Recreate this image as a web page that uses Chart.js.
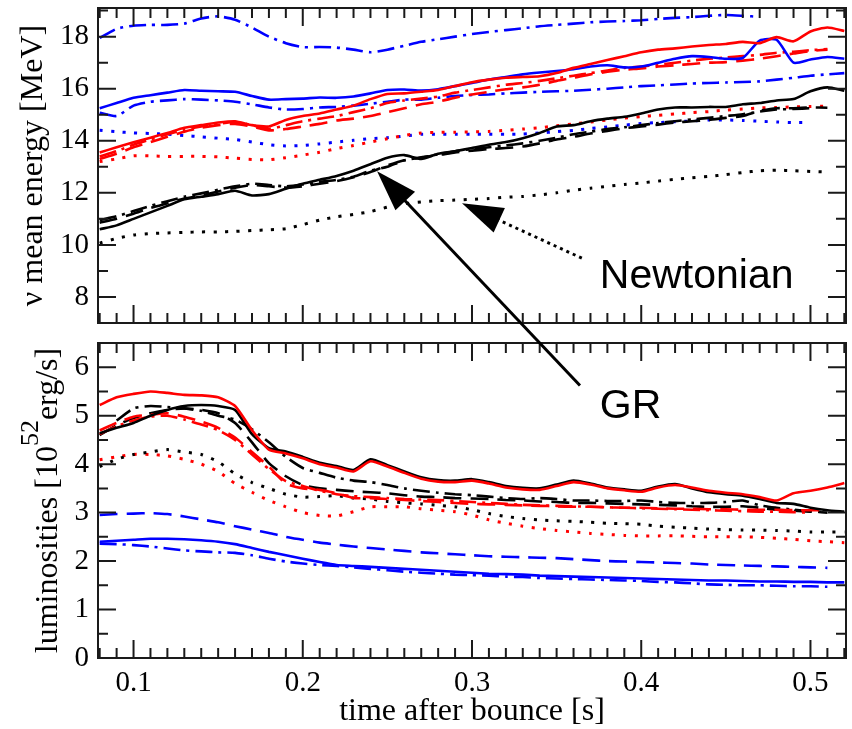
<!DOCTYPE html>
<html>
<head>
<meta charset="utf-8">
<script src="https://cdn.jsdelivr.net/npm/chart.js@4.4.1/dist/chart.umd.min.js"></script>
<style>
body { margin: 0; background: #fff; }
#wrap { position: relative; width: 852px; height: 729px; }
canvas { position: absolute; left: 0; top: 0; }
</style>
</head>
<body>
<div id="wrap">
  <canvas id="lum" width="852" height="729"></canvas>
  <canvas id="energy" width="852" height="729"></canvas>
</div>
<script>
// time after bounce [s], shared by every curve
const times = [
  0.08, 0.09, 0.10, 0.11, 0.12, 0.13, 0.14, 0.15, 0.16, 0.17,
  0.18, 0.19, 0.20, 0.21, 0.22, 0.23, 0.24, 0.25, 0.26, 0.27,
  0.28, 0.29, 0.30, 0.31, 0.32, 0.33, 0.34, 0.35, 0.36, 0.37,
  0.38, 0.39, 0.40, 0.41, 0.42, 0.43, 0.44, 0.45, 0.46, 0.47,
  0.48, 0.49, 0.50, 0.51, 0.52
];
const timeTicks = [0.1, 0.2, 0.3, 0.4, 0.5];
const energyTicks = [8, 10, 12, 14, 16, 18];
const lumTicks = [0, 1, 2, 3, 4, 5, 6];

// mean energies [MeV]
const blueSolidE = [
  15.25, 15.45, 15.65, 15.75, 15.85, 15.95, 15.92, 15.90, 15.88, 15.72,
  15.58, 15.60, 15.62, 15.66, 15.65, 15.70, 15.82, 15.95, 15.97, 15.93,
  15.98, 16.10, 16.22, 16.35, 16.45, 16.55, 16.62, 16.68, 16.75, 16.85,
  16.90, 16.82, 16.85, 17.00, 17.15, 17.25, 17.22, 17.15, 17.18, 17.85,
  17.88, 17.00, 17.12, 17.22, 17.15
];
const blueDashDotHiE = [
  17.95, 18.30, 18.42, 18.45, 18.45, 18.50, 18.70, 18.78, 18.65, 18.35,
  18.00, 17.75, 17.60, 17.60, 17.58, 17.50, 17.40, 17.50, 17.65, 17.80,
  17.90, 18.00, 18.10, 18.18, 18.25, 18.32, 18.40, 18.45, 18.50, 18.55,
  18.58, 18.60, 18.63, 18.68, 18.72, 18.75, 18.80, 18.83, 18.80, 18.76,
  null, null, null, null, null
];
const blueDashDotLoE = [
  15.08, 14.95, 15.35, 15.50, 15.55, 15.60, 15.58, 15.55, 15.50, 15.40,
  15.28, 15.20, 15.22, 15.28, 15.30, 15.35, 15.42, 15.50, 15.58, 15.58,
  15.65, 15.72, 15.76, 15.78, 15.82, 15.85, 15.88, 15.90, 15.92, 15.96,
  16.00, 16.05, 16.10, 16.13, 16.16, 16.20, 16.22, 16.24, 16.26, 16.28,
  16.35, 16.42, 16.50, 16.55, 16.60
];
const blueDotE = [
  14.40, 14.35, 14.30, 14.28, 14.25, 14.20, 14.15, 14.10, 14.05, 13.95,
  13.85, 13.80, 13.82, 13.88, 13.95, 14.02, 14.08, 14.12, 14.18, 14.25,
  14.25, 14.25, 14.25, 14.25, 14.25, 14.26, 14.30, 14.35, 14.40, 14.47,
  14.53, 14.60, 14.66, 14.70, 14.73, 14.76, 14.80, 14.80, 14.78, 14.75,
  14.72, 14.70, 14.70, null, null
];
const redSolidE = [
  13.55, 13.75, 13.94, 14.12, 14.30, 14.50, 14.60, 14.70, 14.75, 14.60,
  14.55, 14.80, 14.95, 15.05, 15.20, 15.35, 15.60, 15.80, 15.82, 15.88,
  15.95, 16.10, 16.25, 16.35, 16.42, 16.45, 16.48, 16.60, 16.80, 16.95,
  17.10, 17.25, 17.40, 17.50, 17.55, 17.62, 17.68, 17.72, 17.80, 17.75,
  17.98, 17.82, 18.20, 18.35, 18.22
];
const redDashDotE = [
  13.40, 13.60, 13.85, 14.05, 14.25, 14.42, 14.55, 14.65, 14.72, 14.60,
  14.45, 14.60, 14.75, 14.85, 14.95, 15.10, 15.25, 15.45, 15.55, 15.62,
  15.70, 15.85, 15.95, 16.05, 16.15, 16.22, 16.30, 16.40, 16.50, 16.60,
  16.70, 16.80, 16.85, 16.92, 17.00, 17.08, 17.15, 17.20, 17.25, 17.30,
  17.38, 17.42, 17.48, 17.52, null
];
const redDashE = [
  13.30, 13.50, 13.75, 13.95, 14.15, 14.35, 14.50, 14.60, 14.65, 14.55,
  14.40, 14.45, 14.55, 14.65, 14.78, 14.85, 14.95, 15.10, 15.25, 15.40,
  15.50, 15.65, 15.78, 15.88, 15.98, 16.05, 16.15, 16.30, 16.42, 16.55,
  16.65, 16.73, 16.78, 16.85, 16.90, 16.95, 17.00, 17.02, 17.08, 17.15,
  17.25, 17.35, 17.45, 17.50, null
];
const redDotE = [
  13.20, 13.30, 13.42, 13.42, 13.40, 13.40, 13.40, 13.38, 13.33, 13.28,
  13.27, 13.35, 13.45, 13.56, 13.70, 13.82, 13.95, 14.08, 14.20, 14.30,
  14.32, 14.33, 14.34, 14.36, 14.40, 14.45, 14.50, 14.58, 14.65, 14.72,
  14.80, 14.87, 14.93, 14.98, 15.03, 15.08, 15.12, 15.18, 15.22, 15.26,
  15.28, 15.30, 15.32, 15.33, null
];
const blackSolidE = [
  10.60, 10.75, 11.00, 11.25, 11.50, 11.75, 11.85, 11.95, 12.08, 11.90,
  11.95, 12.16, 12.35, 12.50, 12.65, 12.85, 13.10, 13.35, 13.45, 13.30,
  13.50, 13.60, 13.72, 13.85, 13.95, 14.10, 14.30, 14.55, 14.60, 14.75,
  14.85, 14.92, 15.05, 15.20, 15.28, 15.28, 15.30, 15.30, 15.40, 15.45,
  15.55, 15.60, 15.90, 16.05, 15.92
];
const blackDashE = [
  10.85, 11.00, 11.20, 11.42, 11.60, 11.78, 11.90, 12.05, 12.20, 12.30,
  12.25, 12.20, 12.25, 12.35, 12.45, 12.60, 12.80, 13.05, 13.25, 13.37,
  13.45, 13.55, 13.62, 13.68, 13.72, 13.78, 13.90, 14.05, 14.15, 14.28,
  14.38, 14.48, 14.55, 14.62, 14.70, 14.75, 14.80, 14.88, 14.95, 15.15,
  15.25, 15.25, 15.28, 15.27, null
];
const blackDashDotE = [
  10.95, 11.10, 11.30, 11.50, 11.68, 11.85, 11.98, 12.12, 12.25, 12.35,
  12.30, 12.25, 12.32, 12.42, 12.50, 12.62, 12.85, 13.00, 13.25, 13.35,
  13.48, 13.60, 13.68, 13.75, 13.82, 13.90, 14.00, 14.12, 14.25, 14.35,
  14.45, 14.52, 14.60, 14.68, 14.75, 14.82, 14.88, 14.95, 15.02, 15.12,
  15.20, 15.22, 15.25, null, null
];
const blackDotE = [
  10.07, 10.25, 10.38, 10.44, 10.46, 10.48, 10.50, 10.50, 10.52, 10.55,
  10.58, 10.62, 10.78, 10.95, 11.08, 11.17, 11.28, 11.45, 11.58, 11.65,
  11.70, 11.72, 11.75, 11.78, 11.83, 11.86, 11.92, 12.00, 12.10, 12.18,
  12.25, 12.32, 12.38, 12.45, 12.52, 12.58, 12.63, 12.70, 12.78, 12.85,
  12.87, 12.85, 12.82, 12.80, null
];

// luminosities [10^52 erg/s]
const redSolidL = [
  5.22, 5.38, 5.45, 5.50, 5.47, 5.43, 5.42, 5.38, 5.20, 4.70,
  4.30, 4.22, 4.12, 4.00, 3.93, 3.85, 4.06, 3.95, 3.82, 3.70,
  3.64, 3.63, 3.66, 3.60, 3.52, 3.48, 3.47, 3.55, 3.63, 3.58,
  3.50, 3.46, 3.43, 3.52, 3.57, 3.52, 3.45, 3.41, 3.38, 3.32,
  3.25, 3.40, 3.45, 3.52, 3.61
];
const blackSolidL = [
  4.64, 4.75, 4.85, 5.00, 5.12, 5.20, 5.22, 5.20, 5.12, 4.62,
  4.33, 4.26, 4.15, 4.03, 3.96, 3.88, 4.10, 3.98, 3.85, 3.73,
  3.67, 3.66, 3.69, 3.63, 3.55, 3.51, 3.50, 3.58, 3.66, 3.60,
  3.52, 3.48, 3.45, 3.54, 3.59, 3.50, 3.42, 3.38, 3.35, 3.28,
  3.20, 3.18, 3.10, 3.05, 3.02
];
const blackDashDotL = [
  null, 4.90, 5.15, 5.20, 5.18, 5.15, 5.10, 5.00, 4.92, 4.72,
  4.45, 4.15, 3.92, 3.82, 3.72, 3.66, 3.63, 3.57, 3.50, 3.45,
  3.41, 3.38, 3.36, 3.33, 3.30, 3.28, 3.30, 3.28, 3.25, 3.25,
  3.24, 3.24, 3.25, 3.22, 3.20, 3.20, 3.20, 3.22, 3.25, 3.15,
  3.10, 3.06, 3.03, 3.00, null
];
const blackDashL = [
  4.60, 4.80, 4.95, 5.05, 5.12, 5.15, 5.12, 5.05, 4.85, 4.45,
  4.02, 3.75, 3.57, 3.50, 3.47, 3.44, 3.42, 3.40, 3.36, 3.33,
  3.32, 3.30, 3.29, 3.28, 3.26, 3.25, 3.23, 3.22, 3.20, 3.20,
  3.19, 3.18, 3.17, 3.16, 3.15, 3.13, 3.12, 3.12, 3.13, 3.10,
  3.06, 3.04, 3.02, 3.00, null
];
const redDashL = [
  4.70, 4.85, 4.98, 5.02, 5.05, 4.98, 4.88, 4.75, 4.55, 4.25,
  3.95, 3.60, 3.50, 3.47, 3.40, 3.30, 3.30, 3.28, 3.26, 3.24,
  3.22, 3.20, 3.18, 3.17, 3.16, 3.15, 3.14, 3.13, 3.12, 3.12,
  3.11, 3.10, 3.10, 3.09, 3.08, 3.08, 3.07, 3.07, 3.06, 3.06,
  3.06, 3.05, 3.05, 3.05, null
];
const redDashDotL = [
  4.62, 4.78, 4.90, 4.98, 5.00, 4.92, 4.82, 4.70, 4.50, 4.20,
  3.90, 3.65, 3.55, 3.45, 3.38, 3.34, 3.32, 3.30, 3.28, 3.27,
  3.26, 3.24, 3.22, 3.20, 3.18, 3.16, 3.15, 3.14, 3.13, 3.12,
  3.11, 3.10, 3.09, 3.08, 3.07, 3.06, 3.05, 3.04, 3.03, 3.02,
  3.02, 3.01, 3.00, null, null
];
const blackDotL = [
  3.95, 4.10, 4.20, 4.25, 4.30, 4.25, 4.20, 4.05, 3.80, 3.62,
  3.50, 3.38, 3.32, 3.33, 3.35, 3.30, 3.28, 3.23, 3.20, 3.18,
  3.15, 3.12, 3.06, 2.98, 2.92, 2.88, 2.85, 2.83, 2.82, 2.80,
  2.78, 2.77, 2.76, 2.72, 2.70, 2.68, 2.66, 2.65, 2.64, 2.64,
  2.63, 2.62, 2.60, 2.60, 2.60
];
const redDotL = [
  4.09, 4.15, 4.20, 4.20, 4.17, 4.10, 4.00, 3.85, 3.60, 3.42,
  3.25, 3.12, 3.00, 2.94, 2.93, 3.02, 3.12, 3.12, 3.12, 3.08,
  3.05, 3.02, 2.95, 2.85, 2.78, 2.72, 2.67, 2.63, 2.60, 2.57,
  2.55, 2.53, 2.52, 2.52, 2.52, 2.51, 2.50, 2.50, 2.50, 2.49,
  2.47, 2.45, 2.42, 2.40, 2.38
];
const blueDashL = [
  2.95, 2.97, 2.98, 2.99, 2.97, 2.92, 2.86, 2.80, 2.72, 2.65,
  2.58, 2.50, 2.44, 2.38, 2.34, 2.30, 2.27, 2.24, 2.21, 2.18,
  2.16, 2.14, 2.12, 2.10, 2.09, 2.08, 2.07, 2.06, 2.04, 2.02,
  2.00, 1.99, 1.98, 1.97, 1.96, 1.95, 1.93, 1.92, 1.91, 1.90,
  1.89, 1.88, 1.87, 1.86, null
];
const blueSolidL = [
  2.40, 2.42, 2.44, 2.46, 2.46, 2.45, 2.43, 2.40, 2.35, 2.27,
  2.19, 2.12, 2.05, 1.98, 1.92, 1.90, 1.88, 1.86, 1.84, 1.82,
  1.80, 1.78, 1.76, 1.74, 1.73, 1.72, 1.70, 1.69, 1.68, 1.67,
  1.66, 1.65, 1.64, 1.63, 1.62, 1.61, 1.60, 1.60, 1.59, 1.58,
  1.58, 1.57, 1.57, 1.56, 1.56
];
const blueDashDotL = [
  2.36, 2.35, 2.33, 2.30, 2.26, 2.22, 2.20, 2.18, 2.17, 2.12,
  2.05, 1.99, 1.95, 1.92, 1.90, 1.87, 1.84, 1.81, 1.78, 1.76,
  1.74, 1.72, 1.71, 1.70, 1.68, 1.67, 1.65, 1.64, 1.63, 1.62,
  1.61, 1.60, 1.59, 1.57, 1.56, 1.54, 1.52, 1.51, 1.50, 1.50,
  1.49, 1.48, 1.48, 1.47, null
];

const SERIF = "'Liberation Serif', 'Times New Roman', serif";
const BLUE = '#0000ff', RED = '#ff0000', BLACK = '#000000';
const lineStyles = {
  solid:   { dash: [], width: 2.6 },
  dash:    { dash: [18, 9], width: 2.6 },
  dashDot: { dash: [17, 6, 3, 6], width: 2.6 },
  dot:     { dash: [3, 8.5], width: 3 }
};

function curve(values, color, style) {
  const s = lineStyles[style];
  return {
    data: values.map((v, i) => ({ x: times[i], y: v })),
    borderColor: color,
    borderWidth: s.width,
    borderDash: s.dash,
    pointRadius: 0,
    tension: 0.2,
    fill: false
  };
}

// frame with inward ticks on all four sides
const framePlugin = {
  id: 'frame',
  afterDraw(chart, args, opts) {
    const { ctx, chartArea: a } = chart;
    const x = chart.scales.x, y = chart.scales.y;
    ctx.save();
    ctx.strokeStyle = '#1a1a1a';
    ctx.lineWidth = 2;
    ctx.strokeRect(a.left, a.top, a.right - a.left, a.bottom - a.top);
    ctx.beginPath();
    for (let i = 8; i <= 52; i++) {
      const px = x.getPixelForValue(i / 100);
      const len = i % 10 === 0 ? 18 : 10;
      ctx.moveTo(px, a.bottom); ctx.lineTo(px, a.bottom - len);
      ctx.moveTo(px, a.top); ctx.lineTo(px, a.top + len);
    }
    const step = opts.minorStep;
    for (let v = Math.ceil(y.min / step) * step; v <= y.max + 1e-9; v += step) {
      const py = y.getPixelForValue(v);
      const major = opts.major.some(m => Math.abs(m - v) < 1e-6);
      const len = major ? 18 : 10;
      ctx.moveTo(a.left, py); ctx.lineTo(a.left + len, py);
      ctx.moveTo(a.right, py); ctx.lineTo(a.right - len, py);
    }
    ctx.stroke();
    ctx.restore();
  }
};

// GR / Newtonian arrows, placed in energy-panel units
const grLabel = { text: 'GR', at: [0.3755, 3.37], tip: [0.2439, 12.83], tail: [0.3638, 4.60], dotted: false };
const newtLabel = { text: 'Newtonian', at: [0.3755, 8.33], tip: [0.2941, 11.60], tail: [0.3649, 9.49], dotted: true };

function drawArrow(ctx, tail, tip, dotted) {
  const dx = tip[0] - tail[0], dy = tip[1] - tail[1];
  const len = Math.hypot(dx, dy), ux = dx / len, uy = dy / len;
  const hl = 41, hw = 13.5;
  const bx = tip[0] - ux * hl, by = tip[1] - uy * hl;
  ctx.beginPath();
  ctx.lineWidth = 3;
  ctx.setLineDash(dotted ? [3, 4] : []);
  ctx.moveTo(tail[0], tail[1]);
  ctx.lineTo(bx + ux * 2, by + uy * 2);
  ctx.stroke();
  ctx.setLineDash([]);
  ctx.beginPath();
  ctx.moveTo(tip[0], tip[1]);
  ctx.lineTo(bx - uy * hw, by + ux * hw);
  ctx.lineTo(bx + uy * hw, by - ux * hw);
  ctx.closePath();
  ctx.fill();
}

const notePlugin = {
  id: 'notes',
  afterDraw(chart) {
    const { ctx } = chart;
    const x = chart.scales.x, y = chart.scales.y;
    const p = d => [x.getPixelForValue(d[0]), y.getPixelForValue(d[1])];
    ctx.save();
    ctx.fillStyle = '#000';
    ctx.strokeStyle = '#000';
    [grLabel, newtLabel].forEach(n => {
      drawArrow(ctx, p(n.tail), p(n.tip), n.dotted);
      const at = p(n.at);
      ctx.font = "41px 'Liberation Sans', Arial, sans-serif";
      ctx.textBaseline = 'alphabetic';
      ctx.textAlign = 'left';
      ctx.fillText(n.text, at[0], at[1]);
    });
    ctx.restore();
  }
};

// luminosity axis title with a raised exponent
const lumTitlePlugin = {
  id: 'lumTitle',
  afterDraw(chart) {
    const { ctx, chartArea: a } = chart;
    const parts = [
      { t: 'luminosities [10', size: 32, rise: 0 },
      { t: '52', size: 26, rise: -19 },
      { t: 'erg/s]', size: 32, rise: 0 }
    ];
    ctx.save();
    ctx.translate(57, (a.top + a.bottom) / 2);
    ctx.rotate(-Math.PI / 2);
    ctx.fillStyle = '#000';
    ctx.textBaseline = 'alphabetic';
    ctx.textAlign = 'left';
    let w = 0;
    parts.forEach(pt => { ctx.font = pt.size + 'px ' + SERIF; pt.w = ctx.measureText(pt.t).width; w += pt.w; });
    let cx = -w / 2;
    parts.forEach(pt => { ctx.font = pt.size + 'px ' + SERIF; ctx.fillText(pt.t, cx, pt.rise); cx += pt.w; });
    ctx.restore();
  }
};

function yAxis(min, max, ticks, width, title) {
  return {
    type: 'linear', min: min, max: max,
    afterBuildTicks: s => { s.ticks = ticks.map(v => ({ value: v })); },
    afterFit: s => { s.width = width; s.paddingTop = 0; s.paddingBottom = 0; },
    grid: { display: false, drawTicks: false },
    border: { display: false },
    ticks: { font: { family: SERIF, size: 29 }, color: '#000', padding: 9, callback: v => String(v) },
    title: title
  };
}

new Chart(document.getElementById('energy'), {
  type: 'line',
  data: {
    datasets: [
      curve(redSolidE, RED, 'solid'),
      curve(blueSolidE, BLUE, 'solid'),
      curve(blackSolidE, BLACK, 'solid'),
      curve(redDashE, RED, 'dash'),
      curve(redDashDotE, RED, 'dashDot'),
      curve(blackDashE, BLACK, 'dash'),
      curve(blackDashDotE, BLACK, 'dashDot'),
      curve(blueDashDotHiE, BLUE, 'dashDot'),
      curve(blueDashDotLoE, BLUE, 'dashDot'),
      curve(redDotE, RED, 'dot'),
      curve(blueDotE, BLUE, 'dot'),
      curve(blackDotE, BLACK, 'dot')
    ]
  },
  options: {
    responsive: false,
    animation: false,
    devicePixelRatio: 1,
    layout: { padding: { left: 0, right: 6, top: 8, bottom: 406 } },
    plugins: { legend: { display: false }, tooltip: { enabled: false },
      frame: { major: energyTicks, minorStep: 1 } },
    scales: {
      x: { type: 'linear', min: 0.079, max: 0.521, display: false },
      y: yAxis(7, 19.1, energyTicks, 98, {
        display: true, text: 'ν mean energy [MeV]', color: '#000',
        font: { family: SERIF, size: 32 }, padding: { top: 14, bottom: 0 }
      })
    }
  },
  plugins: [framePlugin, notePlugin]
});

new Chart(document.getElementById('lum'), {
  type: 'line',
  data: {
    datasets: [
      curve(redSolidL, RED, 'solid'),
      curve(blackSolidL, BLACK, 'solid'),
      curve(redDashL, RED, 'dash'),
      curve(redDashDotL, RED, 'dashDot'),
      curve(blackDashL, BLACK, 'dash'),
      curve(blackDashDotL, BLACK, 'dashDot'),
      curve(blackDotL, BLACK, 'dot'),
      curve(redDotL, RED, 'dot'),
      curve(blueDashL, BLUE, 'dash'),
      curve(blueSolidL, BLUE, 'solid'),
      curve(blueDashDotL, BLUE, 'dashDot')
    ]
  },
  options: {
    responsive: false,
    animation: false,
    devicePixelRatio: 1,
    layout: { padding: { left: 0, right: 6, top: 343, bottom: 0 } },
    plugins: { legend: { display: false }, tooltip: { enabled: false },
      frame: { major: lumTicks, minorStep: 0.5 } },
    scales: {
      x: {
        type: 'linear', min: 0.079, max: 0.521,
        afterBuildTicks: s => { s.ticks = timeTicks.map(v => ({ value: v })); },
        afterFit: s => { s.height = 71; s.paddingLeft = 0; s.paddingRight = 0; },
        grid: { display: false, drawTicks: false },
        border: { display: false },
        ticks: { font: { family: SERIF, size: 29 }, color: '#000', padding: 8, maxRotation: 0, callback: v => v.toFixed(1) },
        title: { display: true, text: 'time after bounce [s]', color: '#000',
          font: { family: SERIF, size: 32, lineHeight: 1 }, padding: { top: 0, bottom: 1 } }
      },
      y: yAxis(0, 6.5, lumTicks, 98, { display: false })
    }
  },
  plugins: [framePlugin, lumTitlePlugin]
});
</script>
</body>
</html>
